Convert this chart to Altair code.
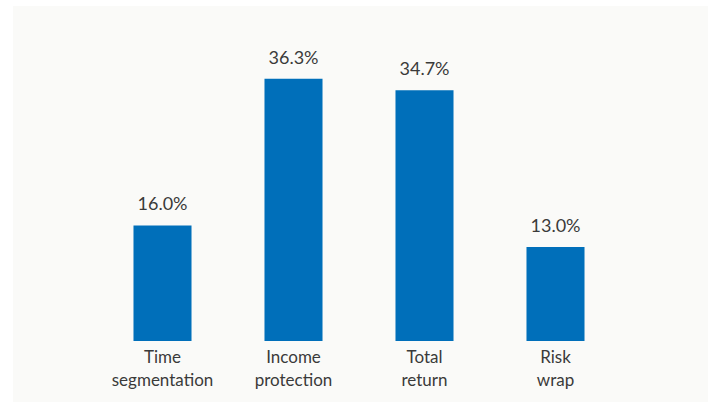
import altair as alt
import pandas as pd

categories = ["Time segmentation", "Income protection", "Total return", "Risk wrap"]
values = [16.0, 36.3, 34.7, 13.0]
labels = ["16.0%", "36.3%", "34.7%", "13.0%"]

df = pd.DataFrame({"cat": categories, "val": values, "lab": labels})
bg_df = pd.DataFrame({"k": [0]})

FONT = "Lato"
TXT = "#3a3a3a"

bg = alt.Chart(bg_df).mark_rect(color="#fafaf8").encode(
    x=alt.value(-84), x2=alt.value(611), y=alt.value(-46), y2=alt.value(360)
)

base = alt.Chart(df).encode(
    x=alt.X("cat:N", sort=categories, title=None,
            scale=alt.Scale(paddingInner=0.557, paddingOuter=0.2785),
            axis=alt.Axis(labelExpr="split(datum.label, ' ')", labelAngle=0,
                          ticks=False, domain=False, labelPadding=8,
                          labelFontSize=17, labelFont=FONT, labelColor=TXT,
                          labelLineHeight=23, labelBaseline="top", zindex=2)),
)

bars = base.mark_bar(color="#006fba").encode(
    y=alt.Y("val:Q", scale=alt.Scale(domain=[0, 40]), axis=None),
)
text = base.mark_text(dy=-11, fontSize=18, font=FONT, color=TXT, baseline="bottom").encode(
    y=alt.Y("val:Q", scale=alt.Scale(domain=[0, 40])),
    text="lab:N",
)

chart = alt.layer(bg, bars, text).properties(
    width=524, height=289,
    autosize=alt.AutoSizeParams(type="none"),
    padding={"left": 97, "top": 52, "right": 87, "bottom": 61},
    background="white",
).configure_view(stroke=None)

chart.save("out.html", embed_options={"renderer": "svg", "actions": False})
